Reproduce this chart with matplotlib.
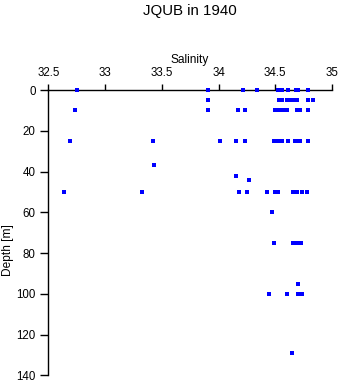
"""Salinity profile for JQUB in 1940"""
import matplotlib
matplotlib.use('Agg')
import matplotlib.pyplot as plt

plt.rcParams['font.family'] = ['Liberation Sans', 'DejaVu Sans']

# Depth [m] and salinity of every sample, grouped by depth level
depth_0 = [32.755, 33.91, 34.22, 34.34, 34.52, 34.56, 34.61, 34.68, 34.70, 34.79]
depth_5 = [33.91, 34.53, 34.56, 34.60, 34.64, 34.67, 34.69, 34.79, 34.83]
depth_10 = [32.735, 33.91, 34.17, 34.23, 34.50, 34.53, 34.57, 34.60, 34.69, 34.72, 34.79]
depth_25 = [32.69, 33.42, 34.01, 34.15, 34.23, 34.49, 34.52, 34.56, 34.61,
            34.67, 34.70, 34.72, 34.79]
depth_37 = [33.43]
depth_42 = [34.155]
depth_44 = [34.27]
depth_50 = [32.64, 33.33, 34.18, 34.25, 34.43, 34.50, 34.52, 34.66, 34.69, 34.74, 34.78]
depth_60 = [34.47]
depth_75 = [34.49, 34.66, 34.68, 34.70, 34.73]
depth_95 = [34.70]
depth_100 = [34.445, 34.60, 34.70, 34.74]
depth_129 = [34.65]

levels = {0: depth_0, 5: depth_5, 10: depth_10, 25: depth_25, 37: depth_37,
          42: depth_42, 44: depth_44, 50: depth_50, 60: depth_60, 75: depth_75,
          95: depth_95, 100: depth_100, 129: depth_129}

sal_ticks = [32.5, 33, 33.5, 34, 34.5, 35]
sal_labels = ['32.5', '33', '33.5', '34', '34.5', '35']
depth_ticks = [0, 20, 40, 60, 80, 100, 120, 140]

salinity = []
depth = []
for d, vals in levels.items():
    for s in vals:
        salinity.append(s)
        depth.append(d)

fig = plt.figure(figsize=(3.41, 3.84), dpi=100)
ax = fig.add_axes([0.1416, 0.0227, 0.832, 0.7429])

# markers on top of the axis line so the surface samples stay visible
ax.plot(salinity, depth, linestyle='none', marker='s', markersize=2.2,
        markeredgewidth=0, color='#0000ff', clip_on=False, zorder=5)

ax.set_xlim(32.5, 35)
ax.set_ylim(140, 0)
ax.xaxis.set_ticks_position('top')
ax.xaxis.set_label_position('top')
ax.set_xticks(sal_ticks)
ax.set_xticklabels(sal_labels)
ax.set_yticks(depth_ticks)

ax.spines['right'].set_visible(False)
ax.spines['bottom'].set_visible(False)
for sp in ('top', 'left'):
    ax.spines[sp].set_linewidth(1.0)

ax.tick_params(axis='x', direction='out', length=4, width=1, pad=4, labelsize=8.3)
ax.tick_params(axis='y', direction='out', length=6, width=1, pad=3, labelsize=8.3)

ax.set_xlabel('Salinity', fontsize=8.6, labelpad=3)
fig.text(0.022, 0.349, 'Depth [m]', rotation=90, ha='center', va='center', fontsize=8.6)
fig.text(0.557, 0.972, 'JQUB in 1940', ha='center', va='center', fontsize=10.8)

fig.savefig('out.png', dpi=100)
